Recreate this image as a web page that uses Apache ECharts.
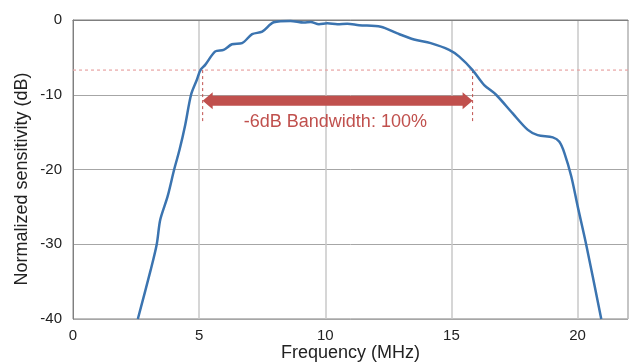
<!DOCTYPE html>
<html><head><meta charset="utf-8">
<script src="https://cdn.jsdelivr.net/npm/echarts@6/dist/echarts.min.js"></script>
<style>html,body{margin:0;padding:0;background:#fff}#c{width:630px;height:364px}</style>
</head><body><div id="c"></div>
<script>
const freq = [2.57,3.09,3.32,3.46,3.75,4.01,4.22,4.45,4.68,4.91,5.05,5.24,5.64,5.97,6.3,6.7,7.1,7.5,7.96,8.62,9.15,9.42,9.75,10.08,10.48,10.87,11.34,12.2,12.86,13.52,14.18,14.91,15.31,15.84,16.3,16.77,17.43,18.03,18.42,19.02,19.28,19.48,19.75,20.01,20.34,20.94];
const sens = [-40,-33.3,-30,-26.7,-23.6,-20,-17.4,-14,-10,-8,-6.7,-6.0,-4.2,-4.0,-3.25,-3.1,-1.9,-1.55,-0.3,-0.13,-0.35,-0.27,-0.57,-0.45,-0.57,-0.5,-0.7,-0.9,-1.8,-2.6,-3.1,-4.0,-4.9,-6.7,-8.7,-10,-12.5,-14.7,-15.4,-15.7,-16.3,-17.8,-20.9,-25,-30,-40];
const xTicks = [0,5,10,15,20];
const yTicks = [0,-10,-20,-30,-40];
const threshold = -6.7;
const bandEdges = [5.14, 15.84];
const markerBottom = -13.8;
const arrowLevel = -10.8;
const bandLabel = '-6dB Bandwidth: 100%';
const labelPos = [10.4, -13.6];

const RED = '#c0504d';
const chart = echarts.init(document.getElementById('c'));
chart.setOption({
  animation: false,
  grid: {left: 73, right: 2, top: 20, bottom: 45, show: true, borderColor: '#7f7f7f', borderWidth: 1, backgroundColor: 'transparent', outerBoundsMode: 'none', containLabel: false},
  xAxis: {
    type: 'value', min: 0, max: 22, interval: 5,
    name: 'Frequency (MHz)', nameLocation: 'middle', nameGap: 25, nameMoveOverlap: false,
    nameTextStyle: {fontFamily: 'Liberation Sans', fontSize: 18, color: '#222'},
    axisLine: {show: true, lineStyle: {color: '#7f7f7f', width: 1}},
    axisTick: {show: false},
    axisLabel: {fontFamily: 'Liberation Sans', fontSize: 15, color: '#222', margin: 9,
      formatter: v => xTicks.includes(v) ? String(v) : ''},
    splitLine: {show: true, lineStyle: {color: '#c8c8c8', width: 1.5}}
  },
  yAxis: {
    type: 'value', min: -40, max: 0, interval: 10,
    axisLine: {show: true, lineStyle: {color: '#7f7f7f', width: 1}},
    axisTick: {show: false},
    axisLabel: {fontFamily: 'Liberation Sans', fontSize: 15, color: '#222', margin: 11,
      formatter: v => yTicks.includes(v) ? String(v) : ''},
    splitLine: {show: true, lineStyle: {color: '#a6a6a6', width: 1}}
  },
  graphic: [{
    type: 'text', x: 22.5, y: 179, rotation: Math.PI / 2,
    style: {text: 'Normalized sensitivity (dB)', fontFamily: 'Liberation Sans', fontSize: 18, fill: '#222', align: 'center', verticalAlign: 'middle'}
  }],
  series: [
    {
      type: 'line', data: [[0, threshold], [22, threshold]], symbol: 'none', silent: true,
      lineStyle: {color: '#e8a3a3', width: 1.2, type: [3, 3]}, z: 2
    },
    {
      type: 'line', data: [[bandEdges[0], threshold], [bandEdges[0], markerBottom]], symbol: 'none', silent: true,
      lineStyle: {color: RED, width: 1, type: [3, 3]}, z: 2
    },
    {
      type: 'line', data: [[bandEdges[1], threshold], [bandEdges[1], markerBottom]], symbol: 'none', silent: true,
      lineStyle: {color: RED, width: 1, type: [3, 3]}, z: 2
    },
    {
      type: 'line', data: freq.map((f, i) => [f, sens[i]]), symbol: 'none', smooth: 0.3, clip: true,
      lineStyle: {color: '#3b74b0', width: 2.5}, z: 3
    },
    {
      type: 'custom', z: 4, silent: true,
      data: [[bandEdges[0], bandEdges[1], arrowLevel, labelPos[0], labelPos[1]]],
      renderItem: (params, api) => {
        const a = api.coord([api.value(0), api.value(2)]);
        const b = api.coord([api.value(1), api.value(2)]);
        const t = api.coord([api.value(3), api.value(4)]);
        const hs = 5, hh = 8.5, hl = 10, y = a[1];
        const pts = [
          [a[0], y], [a[0] + hl, y - hh], [a[0] + hl, y - hs], [b[0] - hl, y - hs], [b[0] - hl, y - hh],
          [b[0], y], [b[0] - hl, y + hh], [b[0] - hl, y + hs], [a[0] + hl, y + hs], [a[0] + hl, y + hh]
        ];
        return {type: 'group', children: [
          {type: 'polygon', shape: {points: pts}, style: {fill: RED}},
          {type: 'text', x: t[0], y: t[1], style: {text: bandLabel, fontFamily: 'Liberation Sans', fontSize: 18, fill: RED, align: 'center', verticalAlign: 'middle'}}
        ]};
      }
    }
  ]
});
</script></body></html>
